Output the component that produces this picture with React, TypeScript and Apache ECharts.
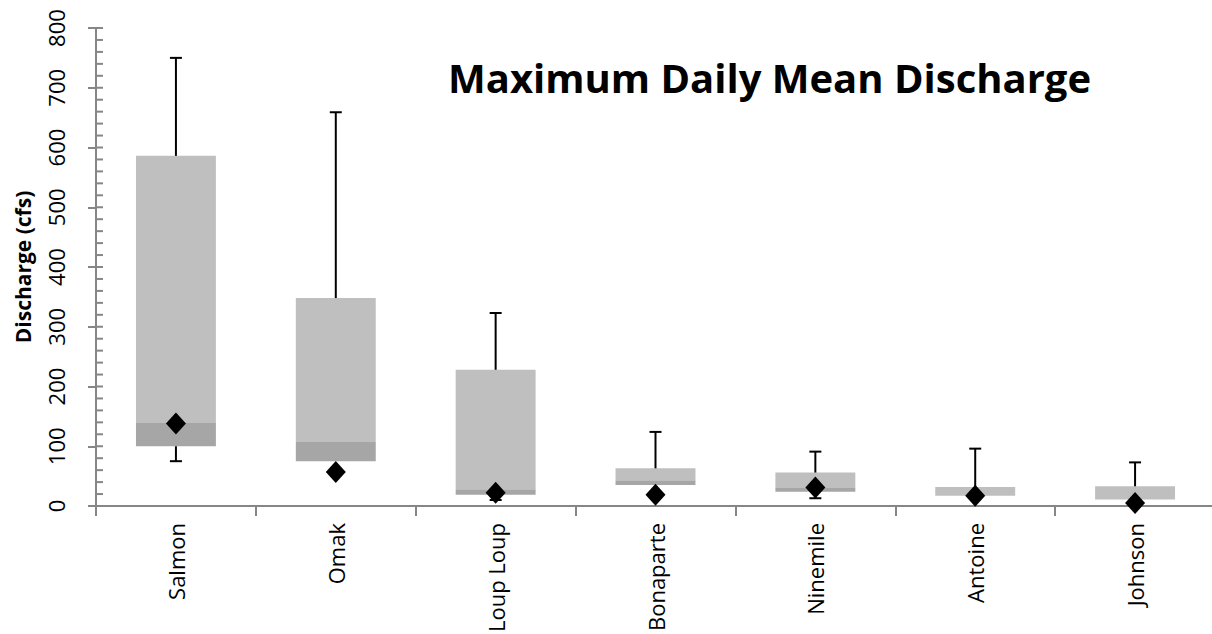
import React, { useEffect, useRef } from "react";
import * as echarts from "echarts";

const categories = ["Salmon", "Omak", "Loup Loup", "Bonaparte", "Ninemile", "Antoine", "Johnson"];
const maxValues = [750, 659, 323, 124, 91, 96, 73];
const q3Values = [586, 348, 228, 63, 56, 32, 33];
const medianValues = [139, 107, 28, 43, 30, 17, 11];
const q1Values = [100, 75, 19, 35, 24, 17, 11];
const minValues = [75, 75, 10, 35, 13, 17, 11];
const currentValues = [138, 57, 22, 19, 31, 17, 5];
const yTicks = [0, 800, 100];
const yTickLabels = [0, 100, 200, 300, 400, 500, 600, 700, 800];
const minorTickStep = 20;

const FONT = "'Open Sans', 'Noto Sans', sans-serif";

export default function App() {
  const ref = useRef<HTMLDivElement>(null);
  useEffect(() => {
    if (!ref.current) return;
    const chart = echarts.init(ref.current, null, { renderer: "svg" });
    const boxData = categories.map((_, i) => [i, q1Values[i], medianValues[i], q3Values[i], minValues[i], maxValues[i]]);
    const minorTicks: number[] = [];
    for (let v = yTicks[0]; v <= yTicks[1]; v += minorTickStep) minorTicks.push(v);
    const option: any = {
      animation: false,
      backgroundColor: "#ffffff",
      textStyle: { fontFamily: FONT },
      title: {
        text: "Maximum Daily Mean Discharge",
        left: 443,
        top: 52,
        textStyle: { fontFamily: FONT, fontWeight: "bold", fontSize: 40, color: "#000" },
      },
      grid: { left: 96, top: 28, width: 1119, height: 478, containLabel: false, outerBoundsMode: "none" },
      xAxis: {
        type: "category",
        data: categories,
        boundaryGap: true,
        axisLine: { lineStyle: { color: "#868686", width: 2 } },
        axisTick: { show: true, length: 10, lineStyle: { color: "#868686", width: 2 } },
        axisLabel: { rotate: 90, margin: 17, fontFamily: FONT, fontSize: 22, color: "#000" },
      },
      yAxis: {
        type: "value",
        min: yTicks[0],
        max: yTicks[1],
        interval: yTicks[2],
        name: "Discharge (cfs)",
        nameLocation: "middle",
        nameGap: 63,
        nameRotate: 90,
        nameTextStyle: { fontFamily: FONT, fontWeight: "bold", fontSize: 21, color: "#000" },
        axisLine: { show: true, lineStyle: { color: "#868686", width: 2 } },
        axisTick: { show: true, length: 8, lineStyle: { color: "#868686", width: 2 } },
        axisLabel: { show: false },
        splitLine: { show: false },
      },
      series: [
        {
          type: "custom",
          data: minorTicks.map((v) => [0, v]),
          encode: { x: 0, y: 1 },
          silent: true,
          clip: false,
          z: 1,
          renderItem: (params: any, api: any) => {
            const v = api.value(1);
            const band = api.size([1, 0])[0];
            const p = api.coord([0, v]);
            const ax = p[0] - band / 2;
            return {
              type: "line",
              shape: { x1: ax, y1: p[1], x2: ax + 7, y2: p[1] },
              style: { stroke: "#868686", lineWidth: 2 },
            };
          },
        },
        {
          type: "custom",
          data: yTickLabels.map((v) => [0, v]),
          encode: { x: 0, y: 1 },
          silent: true,
          clip: false,
          z: 1,
          renderItem: (params: any, api: any) => {
            const v = api.value(1);
            const band = api.size([1, 0])[0];
            const p = api.coord([0, v]);
            const ax = p[0] - band / 2;
            return {
              type: "text",
              x: ax - 40,
              y: p[1],
              rotation: Math.PI / 2,
              style: {
                text: String(v),
                fontFamily: FONT,
                fontSize: 22,
                fill: "#000",
                align: "center",
                verticalAlign: "middle",
              },
            };
          },
        },
        {
          type: "custom",
          data: boxData,
          encode: { x: 0, y: [1, 2, 3, 4, 5] },
          z: 2,
          renderItem: (params: any, api: any) => {
            const idx = api.value(0);
            const q1 = api.value(1);
            const med = api.value(2);
            const q3 = api.value(3);
            const mn = api.value(4);
            const mx = api.value(5);
            const band = api.size([1, 0])[0];
            const w = band * 0.5;
            const pQ1 = api.coord([idx, q1]);
            const pMed = api.coord([idx, med]);
            const pQ3 = api.coord([idx, q3]);
            const pMin = api.coord([idx, mn]);
            const pMax = api.coord([idx, mx]);
            const cx = pQ1[0];
            const children: any[] = [];
            if (pQ1[1] - pMed[1] > 0.5) {
              children.push({
                type: "rect",
                shape: { x: cx - w / 2, y: pMed[1], width: w, height: pQ1[1] - pMed[1] },
                style: { fill: "#a6a6a6" },
              });
            }
            if (pMed[1] - pQ3[1] > 0.5) {
              children.push({
                type: "rect",
                shape: { x: cx - w / 2, y: pQ3[1], width: w, height: pMed[1] - pQ3[1] },
                style: { fill: "#bfbfbf" },
              });
            }
            const ls = { stroke: "#000", lineWidth: 2 };
            children.push({ type: "line", shape: { x1: cx, y1: pQ3[1], x2: cx, y2: pMax[1] }, style: ls });
            children.push({ type: "line", shape: { x1: cx - 6, y1: pMax[1], x2: cx + 6, y2: pMax[1] }, style: ls });
            if (mn < q1) {
              children.push({ type: "line", shape: { x1: cx, y1: pQ1[1], x2: cx, y2: pMin[1] }, style: ls });
              children.push({ type: "line", shape: { x1: cx - 6, y1: pMin[1], x2: cx + 6, y2: pMin[1] }, style: ls });
            }
            return { type: "group", children };
          },
        },
        {
          type: "scatter",
          data: currentValues,
          symbol: "diamond",
          symbolSize: [20, 22],
          itemStyle: { color: "#000", opacity: 1 },
          z: 5,
        },
      ],
    };
    chart.setOption(option);
    return () => chart.dispose();
  }, []);
  return (
    <div
      ref={ref}
      style={{ position: "fixed", left: 0, top: 0, width: 1212, height: 634, background: "#fff" }}
    />
  );
}
